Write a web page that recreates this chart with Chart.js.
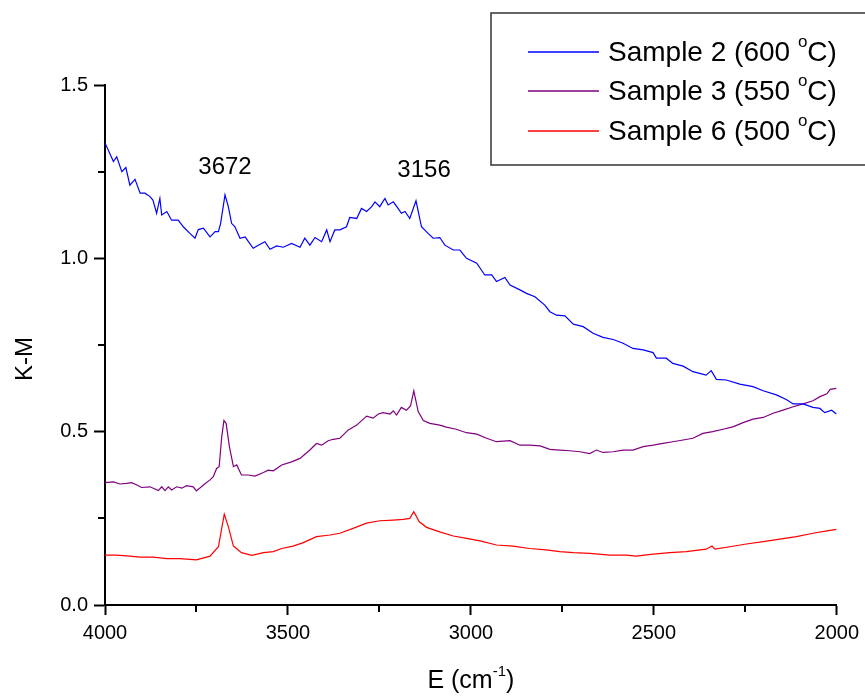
<!DOCTYPE html>
<html>
<head>
<meta charset="utf-8">
<script src="https://cdn.jsdelivr.net/npm/chart.js@4"></script>
<style>
  html, body { margin: 0; padding: 0; background: #fff; }
  #wrap { width: 865px; height: 698px; }
</style>
</head>
<body>
<div id="wrap"><canvas id="kmChart" width="865" height="698"></canvas></div>
<script>
// Sample 2 (600 C)
const s2Wave = [4000, 3977, 3968, 3954, 3943, 3932, 3918, 3904, 3891, 3877, 3869, 3859, 3850, 3845, 3831, 3818, 3800, 3786, 3768, 3754, 3745, 3731, 3713, 3699, 3690, 3684, 3672, 3663, 3654, 3645, 3631, 3617, 3608, 3595, 3581, 3563, 3549, 3531, 3513, 3490, 3467, 3454, 3440, 3426, 3408, 3394, 3385, 3372, 3358, 3340, 3331, 3312, 3299, 3285, 3271, 3262, 3249, 3235, 3226, 3212, 3199, 3190, 3180, 3167, 3150, 3135, 3117, 3103, 3085, 3071, 3048, 3030, 3012, 2984, 2962, 2943, 2930, 2907, 2893, 2866, 2848, 2825, 2798, 2784, 2766, 2743, 2720, 2693, 2666, 2639, 2611, 2584, 2557, 2529, 2502, 2493, 2466, 2448, 2420, 2393, 2357, 2343, 2329, 2302, 2265, 2229, 2201, 2165, 2138, 2119, 2092, 2065, 2046, 2033, 2014, 2001];
const s2KM = [1.333, 1.279, 1.293, 1.250, 1.262, 1.211, 1.228, 1.188, 1.188, 1.178, 1.168, 1.130, 1.173, 1.125, 1.135, 1.110, 1.110, 1.091, 1.072, 1.058, 1.083, 1.087, 1.062, 1.077, 1.077, 1.101, 1.183, 1.149, 1.101, 1.091, 1.058, 1.062, 1.048, 1.029, 1.038, 1.048, 1.026, 1.036, 1.032, 1.043, 1.032, 1.058, 1.038, 1.060, 1.048, 1.082, 1.048, 1.082, 1.082, 1.091, 1.118, 1.115, 1.144, 1.135, 1.149, 1.163, 1.149, 1.173, 1.154, 1.163, 1.144, 1.130, 1.135, 1.115, 1.166, 1.091, 1.072, 1.058, 1.060, 1.038, 1.024, 1.024, 1.000, 0.986, 0.952, 0.952, 0.933, 0.945, 0.923, 0.909, 0.899, 0.889, 0.865, 0.846, 0.836, 0.834, 0.810, 0.803, 0.784, 0.772, 0.766, 0.755, 0.740, 0.736, 0.728, 0.712, 0.712, 0.697, 0.689, 0.673, 0.663, 0.676, 0.651, 0.649, 0.637, 0.630, 0.618, 0.606, 0.593, 0.580, 0.580, 0.570, 0.567, 0.555, 0.562, 0.551];

// Sample 3 (550 C)
const s3Wave = [4000, 3977, 3959, 3941, 3927, 3913, 3900, 3877, 3854, 3845, 3836, 3827, 3818, 3804, 3790, 3777, 3759, 3750, 3731, 3713, 3704, 3695, 3688, 3681, 3675, 3669, 3660, 3649, 3640, 3627, 3608, 3590, 3567, 3554, 3540, 3517, 3490, 3467, 3440, 3422, 3408, 3390, 3376, 3358, 3335, 3312, 3285, 3267, 3253, 3240, 3221, 3212, 3203, 3190, 3176, 3165, 3156, 3144, 3130, 3112, 3085, 3067, 3040, 3012, 2984, 2957, 2930, 2893, 2866, 2839, 2811, 2784, 2757, 2730, 2702, 2675, 2657, 2639, 2611, 2584, 2557, 2529, 2502, 2475, 2448, 2420, 2393, 2366, 2339, 2311, 2284, 2256, 2229, 2201, 2174, 2147, 2119, 2092, 2065, 2046, 2027, 2018, 2001];
const s3KM = [0.353, 0.355, 0.349, 0.351, 0.353, 0.346, 0.339, 0.341, 0.330, 0.341, 0.330, 0.341, 0.332, 0.341, 0.337, 0.344, 0.341, 0.329, 0.346, 0.361, 0.370, 0.394, 0.399, 0.485, 0.532, 0.524, 0.457, 0.399, 0.404, 0.375, 0.375, 0.372, 0.382, 0.389, 0.387, 0.404, 0.413, 0.423, 0.447, 0.466, 0.461, 0.474, 0.478, 0.481, 0.505, 0.519, 0.545, 0.539, 0.551, 0.555, 0.551, 0.560, 0.548, 0.570, 0.562, 0.574, 0.618, 0.558, 0.532, 0.524, 0.519, 0.513, 0.507, 0.497, 0.493, 0.481, 0.471, 0.474, 0.461, 0.461, 0.459, 0.449, 0.447, 0.445, 0.442, 0.437, 0.447, 0.440, 0.442, 0.447, 0.447, 0.457, 0.461, 0.466, 0.471, 0.476, 0.481, 0.495, 0.500, 0.507, 0.514, 0.526, 0.536, 0.541, 0.553, 0.562, 0.572, 0.580, 0.589, 0.601, 0.609, 0.622, 0.625];

// Sample 6 (500 C)
const s6Wave = [4000, 3968, 3932, 3904, 3868, 3831, 3795, 3750, 3713, 3690, 3681, 3674, 3663, 3649, 3627, 3599, 3567, 3540, 3517, 3486, 3458, 3422, 3385, 3358, 3322, 3285, 3249, 3212, 3185, 3167, 3156, 3141, 3121, 3085, 3048, 3012, 2975, 2930, 2885, 2839, 2794, 2757, 2720, 2675, 2620, 2575, 2548, 2502, 2456, 2411, 2357, 2341, 2333, 2292, 2247, 2201, 2156, 2110, 2065, 2027, 2001];
const s6KM = [0.144, 0.144, 0.141, 0.138, 0.138, 0.134, 0.134, 0.130, 0.141, 0.168, 0.221, 0.262, 0.226, 0.170, 0.151, 0.143, 0.151, 0.154, 0.163, 0.170, 0.180, 0.197, 0.202, 0.207, 0.221, 0.236, 0.243, 0.245, 0.247, 0.250, 0.269, 0.240, 0.224, 0.211, 0.199, 0.192, 0.185, 0.173, 0.170, 0.163, 0.159, 0.154, 0.151, 0.149, 0.144, 0.144, 0.141, 0.147, 0.151, 0.154, 0.161, 0.170, 0.161, 0.168, 0.176, 0.183, 0.190, 0.197, 0.207, 0.214, 0.218];

const seriesNames = ['Sample 2 (600 ', 'Sample 3 (550 ', 'Sample 6 (500 '];
const seriesColors = ['#0000ff', '#800080', '#ff0000'];

// peak labels: text, wavenumber, K-M position of the label centre
const peakLabels = ['3672', '3156'];
const peakLabelX = [3672, 3128];
const peakLabelY = [1.263, 1.255];

function toPoints(xs, ys) {
    return xs.map((x, i) => ({ x: x, y: ys[i] }));
}

Chart.defaults.font.family = '"Liberation Sans", Arial, sans-serif';
Chart.defaults.color = '#000';

const isMajorX = v => v % 500 === 0;
const isMajorY = v => Math.abs(v * 2 - Math.round(v * 2)) < 1e-6;

// draws text pieces, some raised as superscripts
function drawRich(ctx, parts, x, y, size, align) {
    let total = 0;
    parts.forEach(p => {
        ctx.font = (p.sup ? Math.round(size * 0.6) : size) + 'px "Liberation Sans", Arial, sans-serif';
        total += ctx.measureText(p.t).width;
    });
    let cx = align === 'center' ? x - total / 2 : x;
    parts.forEach(p => {
        const s = p.sup ? Math.round(size * 0.6) : size;
        ctx.font = s + 'px "Liberation Sans", Arial, sans-serif';
        ctx.textAlign = 'left';
        ctx.textBaseline = 'middle';
        ctx.fillText(p.t, cx, p.sup ? y - size * 0.38 : y);
        cx += ctx.measureText(p.t).width;
    });
}

const extras = {
    id: 'extras',
    afterDraw(chart) {
        const ctx = chart.ctx;
        const xs = chart.scales.x, ys = chart.scales.y;
        const area = chart.chartArea;
        ctx.save();
        ctx.fillStyle = '#000';

        // short minor ticks
        ctx.strokeStyle = '#000';
        ctx.lineWidth = 2;
        ctx.beginPath();
        xs.ticks.forEach(t => {
            if (!isMajorX(t.value)) {
                const px = Math.round(xs.getPixelForValue(t.value));
                ctx.moveTo(px, area.bottom);
                ctx.lineTo(px, area.bottom + 7);
            }
        });
        ys.ticks.forEach(t => {
            if (!isMajorY(t.value)) {
                const py = Math.round(ys.getPixelForValue(t.value));
                ctx.moveTo(area.left, py);
                ctx.lineTo(area.left - 7, py);
            }
        });
        ctx.stroke();

        // peak labels
        ctx.font = '24px "Liberation Sans", Arial, sans-serif';
        ctx.textAlign = 'center';
        ctx.textBaseline = 'middle';
        peakLabels.forEach((t, i) => {
            ctx.fillText(t, xs.getPixelForValue(peakLabelX[i]), ys.getPixelForValue(peakLabelY[i]));
        });

        // axis titles
        drawRich(ctx, [{ t: 'E (cm' }, { t: '-1', sup: true }, { t: ')' }], (area.left + area.right) / 2, 681, 25, 'center');
        ctx.save();
        ctx.translate(25, 359);
        ctx.rotate(-Math.PI / 2);
        ctx.font = '24px "Liberation Sans", Arial, sans-serif';
        ctx.textAlign = 'center';
        ctx.textBaseline = 'middle';
        ctx.fillText('K-M', 0, 0);
        ctx.restore();

        // legend box
        ctx.strokeStyle = '#333';
        ctx.lineWidth = 1.5;
        ctx.strokeRect(491, 13, 400, 152);
        const rows = [52, 91, 131];
        chart.data.datasets.forEach((ds, i) => {
            ctx.strokeStyle = ds.borderColor;
            ctx.lineWidth = 1.5;
            ctx.beginPath();
            ctx.moveTo(528, rows[i]);
            ctx.lineTo(599, rows[i]);
            ctx.stroke();
            ctx.fillStyle = '#000';
            drawRich(ctx, [{ t: seriesNames[i] }, { t: 'o', sup: true }, { t: 'C)' }], 608, rows[i] + 1, 28, 'left');
        });
        ctx.restore();
    }
};

const ctx = document.getElementById('kmChart').getContext('2d');
new Chart(ctx, {
    type: 'line',
    data: {
        datasets: [
            { label: seriesNames[0] + 'C)', data: toPoints(s2Wave, s2KM), borderColor: seriesColors[0] },
            { label: seriesNames[1] + 'C)', data: toPoints(s3Wave, s3KM), borderColor: seriesColors[1] },
            { label: seriesNames[2] + 'C)', data: toPoints(s6Wave, s6KM), borderColor: seriesColors[2] }
        ]
    },
    options: {
        responsive: false,
        animation: false,
        elements: {
            point: { radius: 0 },
            line: { borderWidth: 1.2, tension: 0 }
        },
        layout: { padding: { top: 85, right: 28, left: 0, bottom: 0 } },
        plugins: {
            legend: { display: false },
            tooltip: { enabled: false }
        },
        scales: {
            x: {
                type: 'linear',
                reverse: true,
                min: 2000,
                max: 4000,
                afterFit: s => { s.height = 93; },
                border: { color: '#000', width: 2 },
                grid: {
                    drawOnChartArea: false, tickLength: 10, tickWidth: 2,
                    tickColor: c => (c.tick && isMajorX(c.tick.value) ? '#000' : 'rgba(0,0,0,0)')
                },
                ticks: {
                    stepSize: 250,
                    autoSkip: false,
                    maxRotation: 0,
                    padding: 6,
                    font: { size: 20 },
                    callback: v => (isMajorX(v) ? String(v) : '')
                }
            },
            y: {
                min: 0,
                max: 1.5,
                afterFit: s => { s.width = 105; },
                border: { color: '#000', width: 2 },
                grid: {
                    drawOnChartArea: false, tickLength: 11, tickWidth: 2,
                    tickColor: c => (c.tick && isMajorY(c.tick.value) ? '#000' : 'rgba(0,0,0,0)')
                },
                ticks: {
                    stepSize: 0.25,
                    autoSkip: false,
                    padding: 6,
                    font: { size: 20 },
                    callback: v => (isMajorY(v) ? v.toFixed(1) : '')
                }
            }
        }
    },
    plugins: [extras]
});
</script>
</body>
</html>
